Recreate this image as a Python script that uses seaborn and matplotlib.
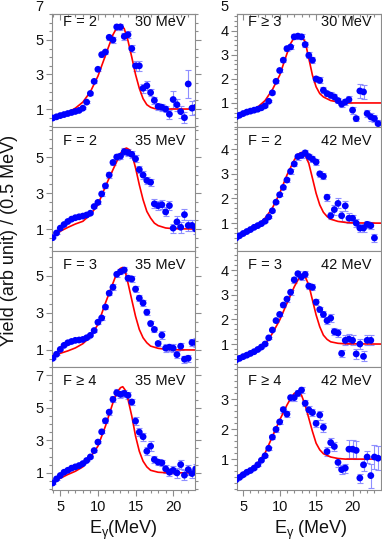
import matplotlib
matplotlib.use("Agg")
import matplotlib.pyplot as plt
from matplotlib.ticker import MultipleLocator, FixedLocator
import seaborn as sns

# photon energy bins (MeV)
E = [4.0, 4.5, 5.0, 5.5, 6.0, 6.5, 7.0, 7.5, 8.0, 8.5, 9.0, 9.5, 10.0, 10.5,
     11.0, 11.5, 12.0, 12.5, 13.0, 13.5, 14.0, 14.5, 15.0, 15.5, 16.0, 16.5,
     17.0, 17.5, 18.0, 18.5, 19.0, 19.5, 20.0, 20.5, 21.0, 21.5, 22.0, 22.5,
     23.0, 23.5]

# F = 2, 30 MeV
y_f2_30 = [0.48, 0.55, 0.62, 0.68, 0.74, 0.80, 0.86, 0.92, 1.05, 1.40, 1.90, 2.60, 3.30,
           4.15, 4.30, 5.15, 5.00, 5.75, 5.75, 5.20, 5.30, 4.50, 3.50, 3.50, 2.20, 2.35,
           1.95, 1.50, 1.15, 1.10, 1.00, 0.70, 1.55, 1.25, 0.85, 0.50, 2.45, 1.05, 1.10]
err_f2_30 = [0.03, 0.03, 0.03, 0.03, 0.03, 0.03, 0.03, 0.03, 0.04, 0.05, 0.06, 0.08, 0.10,
             0.12, 0.12, 0.15, 0.15, 0.20, 0.20, 0.20, 0.20, 0.20, 0.30, 0.30, 0.25, 0.25,
             0.20, 0.20, 0.20, 0.20, 0.20, 0.25, 0.50, 0.35, 0.35, 0.30, 0.80, 0.40, 0.40]
fit_e_f2_30 = [4.0, 5.0, 6.0, 7.0, 8.0, 9.0, 10.0, 11.0, 12.0, 12.5, 13.0, 13.5, 14.0,
               14.5, 15.0, 15.5, 16.0, 16.5, 17.0, 17.5, 18.0, 20.0, 23.0]
fit_y_f2_30 = [0.52, 0.65, 0.80, 1.05, 1.40, 2.00, 2.90, 4.10, 5.30, 5.70, 5.90, 5.65, 4.95,
               4.00, 3.00, 2.20, 1.60, 1.25, 1.10, 1.03, 1.00, 1.00, 1.00]

# F >= 3, 30 MeV
y_f3_30 = [0.42, 0.49, 0.56, 0.62, 0.66, 0.70, 0.74, 0.80, 0.88, 1.07, 1.42, 1.90, 2.35,
           2.78, 3.26, 3.33, 3.75, 3.78, 3.75, 3.43, 2.98, 2.78, 2.00, 1.94, 1.53, 1.39,
           1.32, 1.25, 1.10, 0.95, 1.04, 1.14, 0.70, 0.35, 1.50, 1.46, 0.56, 0.42, 0.35, 0.14]
err_f3_30 = [0.03, 0.03, 0.03, 0.03, 0.03, 0.03, 0.03, 0.03, 0.04, 0.05, 0.06, 0.07, 0.08,
             0.08, 0.09, 0.09, 0.10, 0.10, 0.10, 0.10, 0.12, 0.12, 0.12, 0.12, 0.12, 0.12,
             0.12, 0.12, 0.12, 0.12, 0.12, 0.15, 0.15, 0.12, 0.30, 0.30, 0.15, 0.15, 0.15, 0.15]
fit_e_f3_30 = [4.1, 5.0, 6.0, 7.0, 8.0, 9.0, 10.0, 11.0, 11.5, 12.0, 12.5, 13.0, 13.5,
               14.0, 14.5, 15.0, 15.5, 16.0, 17.0, 18.0, 19.0, 20.0, 23.9]
fit_y_f3_30 = [0.49, 0.58, 0.68, 0.83, 1.10, 1.55, 2.15, 3.05, 3.47, 3.72, 3.82, 3.75, 3.55,
               2.85, 2.15, 1.67, 1.39, 1.25, 1.10, 1.04, 1.01, 1.00, 1.00]

# F = 2, 35 MeV
y_f2_35 = [0.52, 0.78, 1.05, 1.25, 1.42, 1.55, 1.63, 1.68, 1.72, 1.78, 1.88, 2.25, 2.48,
           2.95, 3.40, 4.00, 4.70, 5.00, 5.05, 5.30, 5.25, 5.15, 4.90, 4.30, 4.00, 3.70,
           3.60, 2.40, 2.30, 2.35, 1.95, 2.30, 1.05, 1.40, 1.10, 1.80, 1.20, 1.20, 1.00]
err_f2_35 = [0.04, 0.04, 0.04, 0.04, 0.04, 0.04, 0.04, 0.04, 0.04, 0.04, 0.05, 0.06, 0.08,
             0.10, 0.12, 0.15, 0.15, 0.18, 0.18, 0.20, 0.20, 0.20, 0.20, 0.20, 0.20, 0.20,
             0.20, 0.25, 0.25, 0.25, 0.25, 0.25, 0.25, 0.30, 0.30, 0.30, 0.30, 0.30, 0.30]
fit_e_f2_35 = [4.5, 5.0, 6.0, 7.0, 8.0, 9.0, 10.0, 11.0, 12.0, 13.0, 13.5, 13.8, 14.2,
               14.5, 15.0, 15.5, 16.0, 16.5, 17.0, 17.5, 18.0, 19.0, 20.0, 23.0]
fit_y_f2_35 = [0.75, 0.88, 1.09, 1.28, 1.43, 1.80, 2.35, 3.37, 4.30, 5.20, 5.45, 5.50, 5.40,
               5.20, 4.40, 3.46, 2.63, 1.98, 1.61, 1.33, 1.19, 1.06, 1.02, 1.00]

# F = 2, 42 MeV
y_f2_42 = [0.39, 0.49, 0.58, 0.66, 0.74, 0.83, 0.90, 0.98, 1.08, 1.25, 1.50, 1.85, 2.15,
           2.45, 2.75, 3.10, 3.40, 3.70, 3.75, 3.85, 3.70, 3.60, 3.48, 3.00, 2.90, 2.05,
           1.30, 1.55, 1.80, 1.30, 1.70, 1.20, 1.20, 1.00, 0.80, 0.80, 0.95, 0.90, 0.40]
err_f2_42 = [0.03, 0.03, 0.03, 0.03, 0.03, 0.03, 0.03, 0.03, 0.03, 0.03, 0.04, 0.05, 0.06,
             0.07, 0.08, 0.10, 0.10, 0.12, 0.12, 0.12, 0.12, 0.12, 0.12, 0.12, 0.12, 0.15,
             0.15, 0.20, 0.20, 0.20, 0.20, 0.20, 0.15, 0.15, 0.15, 0.15, 0.15, 0.15, 0.15]
fit_e_f2_42 = [4.1, 5.0, 6.0, 7.0, 8.0, 9.0, 10.0, 11.0, 12.0, 12.5, 13.0, 13.5, 14.0,
               14.5, 15.0, 15.5, 16.0, 16.5, 17.0, 18.0, 19.0, 20.0, 23.9]
fit_y_f2_42 = [0.46, 0.56, 0.73, 0.93, 1.20, 1.61, 2.21, 2.95, 3.56, 3.79, 3.87, 3.76, 3.42,
               2.82, 2.21, 1.74, 1.44, 1.27, 1.16, 1.07, 1.03, 1.01, 1.00]

# F = 3, 35 MeV
y_f3_35 = [0.55, 0.77, 1.03, 1.25, 1.39, 1.46, 1.52, 1.54, 1.57, 1.66, 1.79, 2.05, 2.50,
           2.73, 3.32, 4.07, 4.39, 5.09, 5.23, 5.32, 4.88, 4.84, 4.29, 3.80, 3.54, 3.04,
           2.43, 2.11, 1.35, 1.80, 1.10, 1.15, 1.10, 0.75, 1.20, 0.50, 0.55, 1.40, 1.40]
err_f3_35 = [0.04, 0.04, 0.04, 0.04, 0.04, 0.04, 0.04, 0.04, 0.04, 0.04, 0.05, 0.06, 0.08,
             0.10, 0.12, 0.12, 0.15, 0.15, 0.15, 0.15, 0.15, 0.15, 0.15, 0.15, 0.15, 0.15,
             0.15, 0.15, 0.15, 0.20, 0.20, 0.20, 0.20, 0.20, 0.20, 0.20, 0.20, 0.20, 0.25]
fit_e_f3_35 = [4.0, 5.0, 6.0, 7.0, 8.0, 9.0, 10.0, 11.0, 12.0, 12.5, 13.0, 13.3, 13.6,
               14.0, 14.5, 15.0, 15.5, 16.0, 16.5, 17.0, 18.0, 19.0, 20.0, 23.0]
fit_y_f3_35 = [0.71, 0.82, 0.95, 1.11, 1.34, 1.71, 2.38, 3.54, 4.61, 5.14, 5.41, 5.46, 5.30,
               4.61, 3.71, 2.82, 2.11, 1.66, 1.39, 1.21, 1.09, 1.04, 1.01, 1.00]

# F = 3, 42 MeV
y_f3_42 = [0.35, 0.42, 0.49, 0.55, 0.62, 0.69, 0.78, 0.88, 1.00, 1.25, 1.57, 1.95, 2.20,
           2.58, 2.82, 3.10, 3.60, 3.85, 3.72, 3.82, 3.35, 3.30, 2.70, 2.40, 2.20, 1.95,
           2.05, 1.50, 1.45, 0.62, 1.15, 1.20, 1.15, 0.60, 1.00, 0.50, 1.15, 1.15]
err_f3_42 = [0.03, 0.03, 0.03, 0.03, 0.03, 0.03, 0.03, 0.03, 0.03, 0.04, 0.05, 0.06, 0.07,
             0.08, 0.10, 0.10, 0.12, 0.12, 0.12, 0.12, 0.12, 0.12, 0.12, 0.12, 0.12, 0.15,
             0.15, 0.15, 0.15, 0.15, 0.20, 0.20, 0.20, 0.20, 0.20, 0.20, 0.20, 0.20]
fit_e_f3_42 = [4.0, 5.0, 6.0, 7.0, 8.0, 9.0, 10.0, 11.0, 12.0, 12.5, 13.0, 13.5, 14.0,
               14.5, 15.0, 15.5, 16.0, 16.5, 17.0, 18.0, 19.0, 23.9]
fit_y_f3_42 = [0.38, 0.49, 0.62, 0.78, 0.99, 1.43, 1.97, 2.65, 3.32, 3.59, 3.80, 3.73, 3.39,
               2.78, 2.18, 1.70, 1.36, 1.19, 1.09, 1.03, 1.01, 1.00]

# F >= 4, 35 MeV
y_f4_35 = [0.38, 0.63, 0.84, 1.04, 1.16, 1.29, 1.37, 1.45, 1.57, 1.76, 1.98, 2.37, 2.89,
           3.52, 4.20, 4.73, 5.51, 5.92, 5.82, 5.88, 5.76, 5.35, 4.18, 3.50, 3.22, 2.33,
           2.64, 1.82, 1.66, 1.62, 1.25, 1.04, 1.16, 1.00, 1.51, 0.86, 1.20, 0.96, 1.25]
err_f4_35 = [0.04, 0.04, 0.04, 0.04, 0.04, 0.04, 0.04, 0.04, 0.04, 0.04, 0.05, 0.06, 0.08,
             0.10, 0.12, 0.15, 0.18, 0.20, 0.20, 0.20, 0.20, 0.20, 0.25, 0.25, 0.25, 0.25,
             0.30, 0.20, 0.20, 0.20, 0.25, 0.25, 0.25, 0.30, 0.30, 0.30, 0.30, 0.30, 0.30]
fit_e_f4_35 = [4.0, 5.0, 6.0, 7.0, 8.0, 9.0, 10.0, 11.0, 12.0, 12.5, 13.0, 13.3, 13.6,
               14.0, 14.5, 15.0, 15.5, 16.0, 16.5, 17.0, 18.0, 19.0, 23.0]
fit_y_f4_35 = [0.49, 0.67, 0.90, 1.10, 1.37, 1.96, 2.64, 3.87, 5.31, 5.92, 6.23, 6.29, 6.10,
               5.51, 4.49, 3.26, 2.33, 1.72, 1.37, 1.16, 1.04, 1.01, 1.00]

# F >= 4, 42 MeV
y_f4_42 = [0.31, 0.39, 0.48, 0.56, 0.62, 0.70, 0.81, 0.96, 1.11, 1.36, 1.73, 1.99, 2.24,
           2.65, 2.50, 3.05, 3.05, 3.19, 3.30, 2.86, 2.64, 2.55, 2.19, 2.47, 2.06, 1.25,
           1.55, 1.42, 0.89, 0.65, 0.70, 1.33, 1.33, 1.29, 0.37, 0.81, 1.07, 0.45, 1.07, 1.03]
err_f4_42 = [0.03, 0.03, 0.03, 0.03, 0.03, 0.03, 0.03, 0.03, 0.04, 0.05, 0.06, 0.07, 0.08,
             0.10, 0.10, 0.10, 0.10, 0.10, 0.10, 0.10, 0.12, 0.12, 0.12, 0.15, 0.15, 0.15,
             0.15, 0.15, 0.15, 0.15, 0.15, 0.30, 0.30, 0.30, 0.15, 0.20, 0.20, 0.40, 0.40, 0.40]
fit_e_f4_42 = [4.6, 5.0, 6.0, 7.0, 8.0, 9.0, 10.0, 11.0, 11.5, 12.0, 12.5, 13.0, 13.5,
               14.0, 14.5, 15.0, 15.5, 16.0, 17.0, 18.0, 19.0, 23.9]
fit_y_f4_42 = [0.50, 0.55, 0.65, 0.87, 1.20, 1.75, 2.30, 2.80, 3.02, 3.19, 3.24, 3.13, 2.80,
               2.36, 1.92, 1.53, 1.31, 1.18, 1.07, 1.02, 1.00, 1.00]

sns.set_style("ticks")
plt.rcParams["font.family"] = ["Liberation Sans", "DejaVu Sans"]
plt.rcParams["mathtext.fontset"] = "custom"
plt.rcParams["mathtext.rm"] = "Liberation Sans"
plt.rcParams["mathtext.it"] = "Liberation Sans:italic"

W, H = 382, 545
fig = plt.figure(figsize=(W / 100, H / 100), dpi=100)

GREY = "#8c8c8c"
col_x = [(52, 195), (237, 381)]
row_y = [14, 127, 251, 367, 490]
xlims = [(3.9, 22.9), (4.15, 23.9)]

panels = [
    # row, col, F label, energy, y, err, fit e, fit y, ylim, yticks, minor, extra top label
    (0, 0, "F = 2", "30 MeV", y_f2_30, err_f2_30, fit_e_f2_30, fit_y_f2_30, (-0.04, 6.5), [1, 3, 5], 0.5, "7"),
    (1, 0, "F = 2", "35 MeV", y_f2_35, err_f2_35, fit_e_f2_35, fit_y_f2_35, (-0.22, 6.67), [1, 3, 5], 0.5, None),
    (2, 0, "F = 3", "35 MeV", y_f3_35, err_f3_35, fit_e_f3_35, fit_y_f3_35, (0.08, 6.35), [1, 3, 5], 0.5, None),
    (3, 0, "F \u2265 4", "35 MeV", y_f4_35, err_f4_35, fit_e_f4_35, fit_y_f4_35, (-0.05, 7.5), [1, 3, 5, 7], 0.5, None),
    (0, 1, "F \u2265 3", "30 MeV", y_f3_30, err_f3_30, fit_e_f3_30, fit_y_f3_30, (0.0, 4.7), [1, 2, 3, 4], 0.2, "5"),
    (1, 1, "F = 2", "42 MeV", y_f2_42, err_f2_42, fit_e_f2_42, fit_y_f2_42, (-0.13, 4.9), [1, 2, 3, 4], 0.2, None),
    (2, 1, "F = 3", "42 MeV", y_f3_42, err_f3_42, fit_e_f3_42, fit_y_f3_42, (0.07, 4.77), [1, 2, 3, 4], 0.2, None),
    (3, 1, "F \u2265 4", "42 MeV", y_f4_42, err_f4_42, fit_e_f4_42, fit_y_f4_42, (-0.03, 4.07), [1, 2, 3], 0.2, None),
]

for row, col, flab, elab, y, err, fe, fy, ylim, yticks, minor, extra in panels:
    x0, x1 = col_x[col]
    y0, y1 = row_y[row], row_y[row + 1]
    ax = fig.add_axes([x0 / W, 1 - y1 / H, (x1 - x0) / W, (y1 - y0) / H])
    e = E[:len(y)]

    ax.errorbar(e, y, yerr=err, fmt="none", ecolor="#8f8fff", elinewidth=0.8,
                capsize=2.2, capthick=0.8, zorder=1)
    sns.lineplot(x=fe, y=fy, ax=ax, color="#ff0000", lw=1.2, sort=False,
                 estimator=None, zorder=2)
    sns.scatterplot(x=e, y=y, ax=ax, color="#0000ff", s=24, edgecolor="none",
                    linewidth=0, zorder=3)

    ax.set_xlim(*xlims[col])
    ax.set_ylim(*ylim)
    ax.xaxis.set_major_locator(FixedLocator([5, 10, 15, 20]))
    ax.xaxis.set_minor_locator(MultipleLocator(1))
    ax.yaxis.set_major_locator(FixedLocator(yticks))
    ax.yaxis.set_minor_locator(MultipleLocator(minor))
    ax.set_xlabel("")
    ax.set_ylabel("")

    for sp in ax.spines.values():
        sp.set_visible(True)
        sp.set_color(GREY)
        sp.set_linewidth(0.8)

    ax.tick_params(axis="both", which="both", color=GREY, width=0.8,
                   labelsize=10.5, labelcolor="#111111", direction="out")
    ax.tick_params(axis="both", which="major", length=4)
    ax.tick_params(axis="both", which="minor", length=2.2)
    ax.tick_params(axis="y", which="both", left=True, right=True, labelleft=True,
                   labelright=False, pad=2)
    ax.tick_params(axis="x", which="both", bottom=True, top=False,
                   labelbottom=(row == 3), pad=3)

    if row == 0:
        sec = ax.secondary_xaxis("top")
        sec.xaxis.set_major_locator(FixedLocator([5, 10, 15, 20]))
        sec.xaxis.set_minor_locator(MultipleLocator(1))
        sec.tick_params(axis="x", which="both", direction="in", color=GREY,
                        width=0.8, labeltop=False)
        sec.tick_params(axis="x", which="major", length=4)
        sec.tick_params(axis="x", which="minor", length=2.2)
        sec.spines["top"].set_color(GREY)
        sec.spines["top"].set_linewidth(0.8)
        # the top tick label sits just above the frame
        ax.annotate(extra, xy=(0, 1), xycoords="axes fraction",
                    xytext=(-6, 5), textcoords="offset points", ha="right",
                    va="center", fontsize=10.5, color="#111111", annotation_clip=False)

    top_off = -6 if row == 0 else -10
    ax.annotate(flab, xy=(0, 1), xycoords="axes fraction", xytext=(8, top_off),
                textcoords="offset points", ha="left", va="center", fontsize=10.5,
                color="#111111")
    ax.annotate(elab, xy=(1, 1), xycoords="axes fraction", xytext=(-7, top_off),
                textcoords="offset points", ha="right", va="center", fontsize=10.5,
                color="#111111")

fig.text(10 / W, 1 - 240 / H, "Yield (arb unit) / (0.5 MeV)", rotation=90,
         ha="center", va="center", fontsize=13, color="#111111")
fig.text(123.5 / W, 1 - 530 / H, r"E$_{\mathrm{\gamma}}$(MeV)", ha="center",
         va="center", fontsize=13, color="#111111")
fig.text(311 / W, 1 - 530 / H, r"E$_{\mathrm{\gamma}}$ (MeV)", ha="center",
         va="center", fontsize=13, color="#111111")

fig.savefig("out.png", dpi=100)
